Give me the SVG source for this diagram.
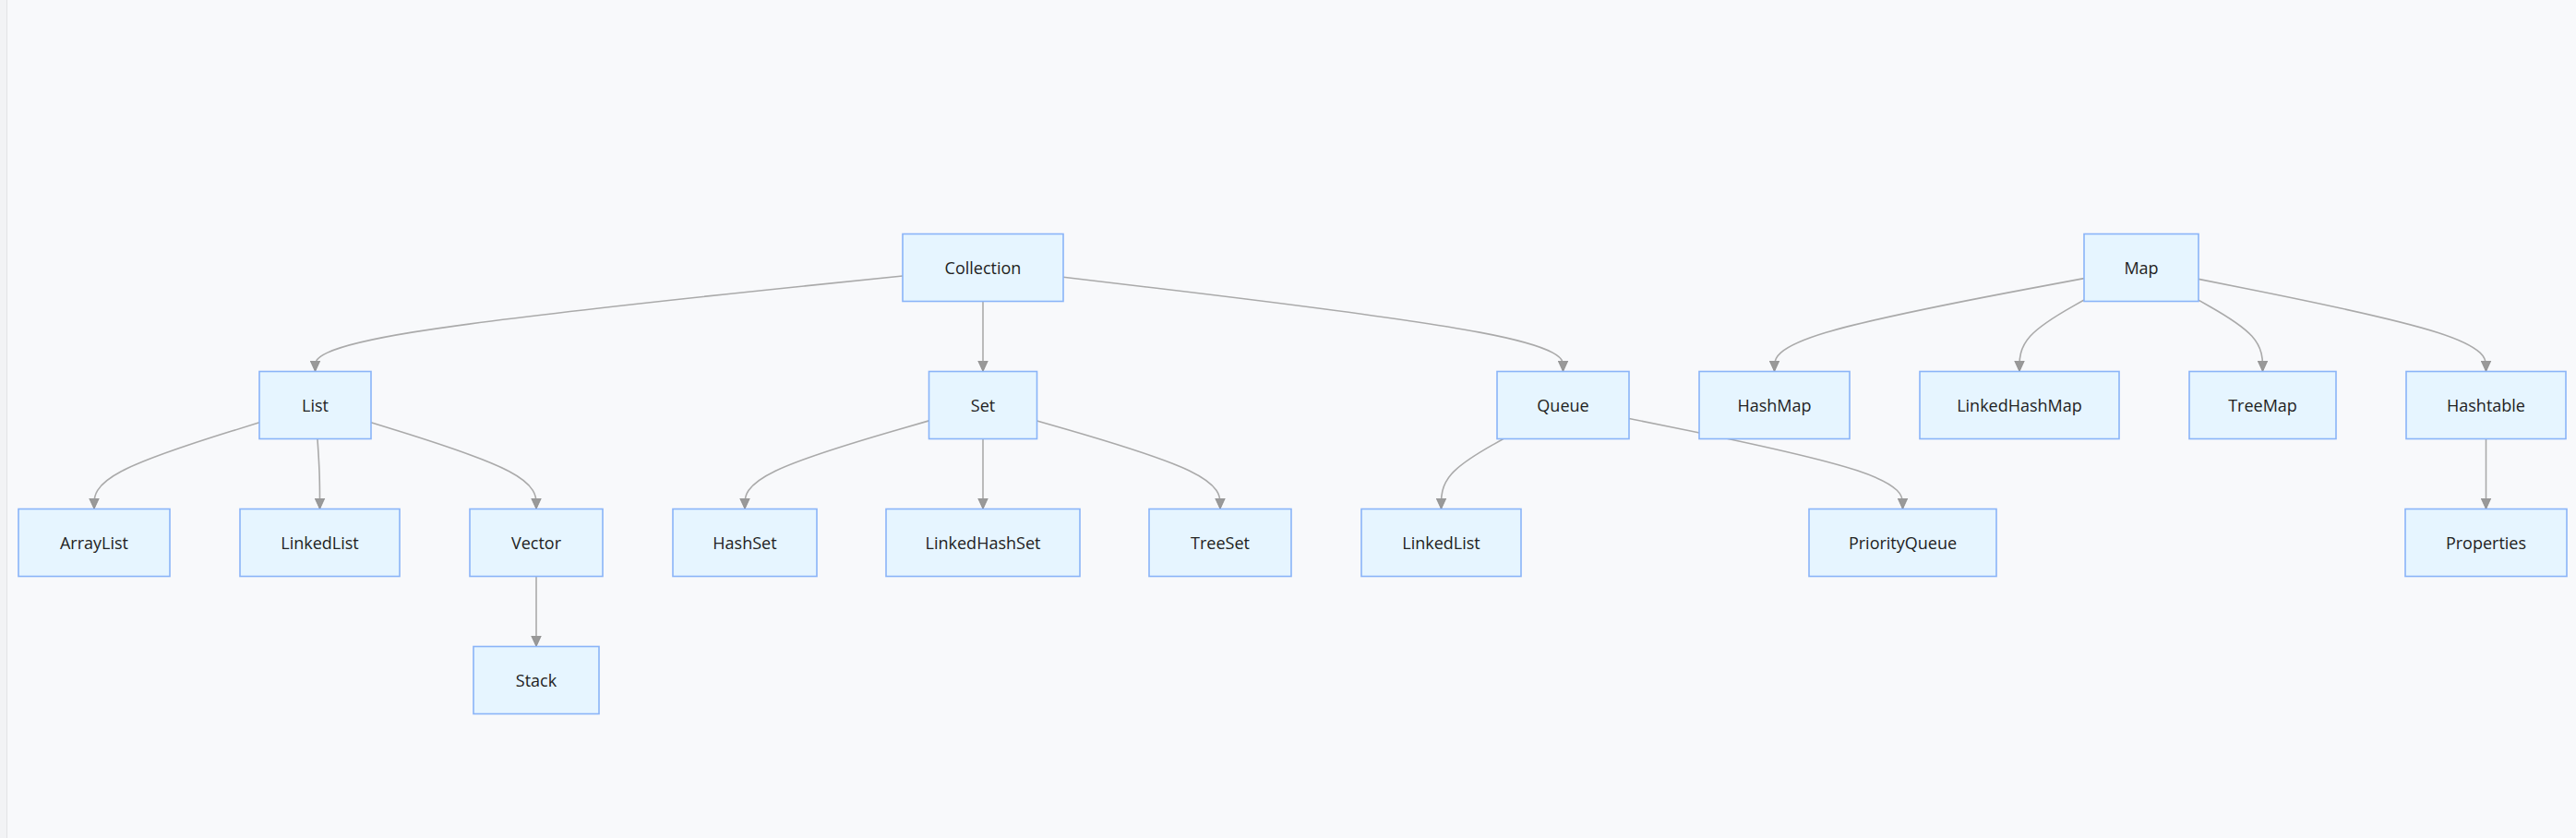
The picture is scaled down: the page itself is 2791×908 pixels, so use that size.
<svg xmlns="http://www.w3.org/2000/svg" width="2791" height="908" viewBox="0 0 2791 908">
<defs>
<style>
.bg{fill:#f8f9fb}
.node rect{fill:#e6f5ff;stroke:#8ab4f8;stroke-width:1.6}
.node text{font-family:"Open Sans","Noto Sans","Liberation Sans",sans-serif;font-size:18px;fill:#222;text-anchor:middle}
.edges path{fill:none;stroke:#aaaaaa;stroke-width:1.6;marker-end:url(#arrow)}
</style>
<marker id="arrow" viewBox="0 0 12 12" refX="12" refY="6" markerWidth="12" markerHeight="12" markerUnits="userSpaceOnUse" orient="auto">
<path d="M0,0.5 L12,6 L0,11.5 z" fill="#999" stroke="#888" stroke-width="0.8"/>
</marker>
</defs>
<rect class="bg" x="0" y="0" width="2791" height="908"/>
<rect x="0" y="0" width="7" height="908" fill="#f2f3f5"/>
<line x1="7.5" y1="0" x2="7.5" y2="908" stroke="#e2e3e5" stroke-width="1"/>

<g id="edges" class="edges">
<path d="M978,298.96 L871.92,309.88 C765.83,320.81 553.67,342.65 447.58,359.91 C341.5,377.17 341.5,389.83 341.5,396.17 L341.5,402.5"/>
<path d="M1065,326.5 L1065,402.5"/>
<path d="M1152,300.31 L1242.25,311.01 C1332.5,321.71 1513,343.1 1603.25,360.14 C1693.5,377.17 1693.5,389.83 1693.5,396.17 L1693.5,402.5"/>
<path d="M2258,301.62 L2202.08,312.1 C2146.17,322.58 2034.33,343.54 1978.42,360.35 C1922.5,377.17 1922.5,389.83 1922.5,396.17 L1922.5,402.5"/>
<path d="M2258,324.99 L2246.33,331.58 C2234.67,338.16 2211.33,351.33 2199.67,364.25 C2188,377.17 2188,389.83 2188,396.17 L2188,402.5"/>
<path d="M2382,325.13 L2393.58,331.69 C2405.17,338.25 2428.33,351.38 2439.92,364.27 C2451.5,377.17 2451.5,389.83 2451.5,396.17 L2451.5,402.5"/>
<path d="M2382,302.37 L2433.92,312.73 C2485.83,323.08 2589.67,343.79 2641.58,360.48 C2693.5,377.17 2693.5,389.83 2693.5,396.17 L2693.5,402.5"/>
<path d="M281,457.82 L251.17,467.1 C221.33,476.38 161.67,494.94 131.83,510.55 C102,526.17 102,538.83 102,545.17 L102,551.5"/>
<path d="M343.95,475.5 L344.38,481.83 C344.8,488.17 345.65,500.83 346.08,513.5 C346.5,526.17 346.5,538.83 346.5,545.17 L346.5,551.5"/>
<path d="M402,457.82 L431.83,467.1 C461.67,476.38 521.33,494.94 551.17,510.55 C581,526.17 581,538.83 581,545.17 L581,551.5"/>
<path d="M1006.5,455.89 L973.25,465.49 C940,475.09 873.5,494.3 840.25,510.23 C807,526.17 807,538.83 807,545.17 L807,551.5"/>
<path d="M1065,475.5 L1065,551.5"/>
<path d="M1123.5,455.96 L1156.58,465.55 C1189.67,475.14 1255.83,494.32 1288.92,510.24 C1322,526.17 1322,538.83 1322,545.17 L1322,551.5"/>
<path d="M1628.83,475.5 L1617.61,481.83 C1606.39,488.17 1583.94,500.83 1572.72,513.5 C1561.5,526.17 1561.5,538.83 1561.5,545.17 L1561.5,551.5"/>
<path d="M1765,453.47 L1814.42,463.48 C1863.83,473.48 1962.67,493.49 2012.08,509.83 C2061.5,526.17 2061.5,538.83 2061.5,545.17 L2061.5,551.5"/>
<path d="M2693.5,475.5 L2693.5,551.5"/>
<path d="M581,624.5 L581,700.5"/>
</g>

<g id="Collection" class="node"><rect x="978" y="253.5" width="174" height="73"/><text x="1065" y="296.5">Collection</text></g>
<g id="Map" class="node"><rect x="2258" y="253.5" width="124" height="73"/><text x="2320" y="296.5">Map</text></g>
<g id="List" class="node"><rect x="281" y="402.5" width="121" height="73"/><text x="341.5" y="445.5">List</text></g>
<g id="Set" class="node"><rect x="1006.5" y="402.5" width="117" height="73"/><text x="1065" y="445.5">Set</text></g>
<g id="Queue" class="node"><rect x="1622" y="402.5" width="143" height="73"/><text x="1693.5" y="445.5">Queue</text></g>
<g id="HashMap" class="node"><rect x="1841" y="402.5" width="163" height="73"/><text x="1922.5" y="445.5">HashMap</text></g>
<g id="LinkedHashMap" class="node"><rect x="2080" y="402.5" width="216" height="73"/><text x="2188" y="445.5">LinkedHashMap</text></g>
<g id="TreeMap" class="node"><rect x="2372" y="402.5" width="159" height="73"/><text x="2451.5" y="445.5">TreeMap</text></g>
<g id="Hashtable" class="node"><rect x="2607" y="402.5" width="173" height="73"/><text x="2693.5" y="445.5">Hashtable</text></g>
<g id="ArrayList" class="node"><rect x="20" y="551.5" width="164" height="73"/><text x="102" y="594.5">ArrayList</text></g>
<g id="LinkedList" class="node"><rect x="260" y="551.5" width="173" height="73"/><text x="346.5" y="594.5">LinkedList</text></g>
<g id="Vector" class="node"><rect x="509" y="551.5" width="144" height="73"/><text x="581" y="594.5">Vector</text></g>
<g id="HashSet" class="node"><rect x="729" y="551.5" width="156" height="73"/><text x="807" y="594.5">HashSet</text></g>
<g id="LinkedHashSet" class="node"><rect x="960" y="551.5" width="210" height="73"/><text x="1065" y="594.5">LinkedHashSet</text></g>
<g id="TreeSet" class="node"><rect x="1245" y="551.5" width="154" height="73"/><text x="1322" y="594.5">TreeSet</text></g>
<g id="LinkedList2" class="node"><rect x="1475" y="551.5" width="173" height="73"/><text x="1561.5" y="594.5">LinkedList</text></g>
<g id="PriorityQueue" class="node"><rect x="1960" y="551.5" width="203" height="73"/><text x="2061.5" y="594.5">PriorityQueue</text></g>
<g id="Properties" class="node"><rect x="2606" y="551.5" width="175" height="73"/><text x="2693.5" y="594.5">Properties</text></g>
<g id="Stack" class="node"><rect x="513" y="700.5" width="136" height="73"/><text x="581" y="743.5">Stack</text></g>
</svg>
